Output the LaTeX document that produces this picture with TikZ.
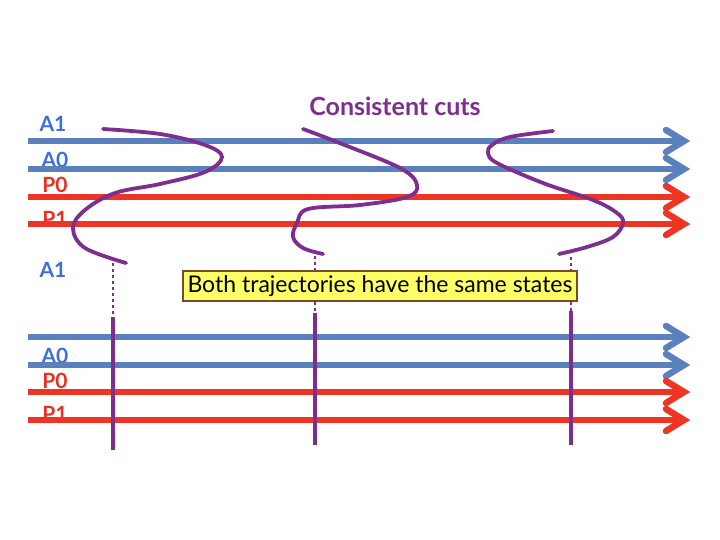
\documentclass[tikz,border=0pt]{standalone}
\usepackage{fontspec}
\setmainfont{Lato}
\definecolor{lblue}{HTML}{5A80BE}
\definecolor{lred}{HTML}{EE3524}
\definecolor{tblue}{HTML}{3D6DE0}
\definecolor{tred}{HTML}{E53222}
\definecolor{cutp}{HTML}{7D2E8E}
\definecolor{boxy}{HTML}{FFFF66}
\definecolor{boxb}{HTML}{7A4A2A}
\tikzset{
  lab/.style={font=\fontsize{21}{23}\selectfont\bfseries, inner sep=0pt},
  tline/.style={line width=6pt},
  barb/.style={line width=6.5pt, line cap=round, line join=miter},
  cut/.style={cutp, line width=3.8pt, line cap=round},
  vcut/.style={cutp, line width=4pt},
  dcut/.style={cutp, line width=2pt, dash pattern=on 3pt off 3pt},
}
\newcommand{\tl}[2]{%
  \coordinate (s#2) at (28,#1);
  \coordinate (e#2) at (684,#1);
  \draw[tline] (s#2) -- (e#2);
  \draw[barb] ([shift={(-18,-11)}]e#2) -- (e#2) -- ([shift={(-18,11)}]e#2);
}
\begin{document}
\begin{tikzpicture}[x=1pt,y=-1pt]
\useasboundingbox (0,0) rectangle (720,540);
% labels (under the lines)
\node[lab, text=tblue] (la1) at (53,124) {A1};
\node[lab, text=tblue] (la0) at (55,160) {A0};
\node[lab, text=tred]  (lp0) at (55,185) {P0};
\node[lab, text=tred]  (lp1) at (55,219) {P1};
\node[lab, text=tblue] (lb1) at (53,270) {A1};
\node[lab, text=tblue] (lc0) at (55,356) {A0};
\node[lab, text=tred]  (lq0) at (55,381) {P0};
\node[lab, text=tred]  (lq1) at (55,414) {P1};
% top lines
\begin{scope}[lblue]\tl{141}{ta1}\tl{169}{ta0}\end{scope}
\begin{scope}[lred]\tl{197}{tp0}\tl{224}{tp1}\end{scope}
% bottom lines
\begin{scope}[lblue]\tl{337}{ba1}\tl{365}{ba0}\end{scope}
\begin{scope}[lred]\tl{392}{bp0}\tl{420}{bp1}\end{scope}
% title
\node[font=\fontsize{25}{27}\selectfont\bfseries, text=cutp, inner sep=0pt] (title) at (395,106) {Consistent cuts};
% cuts
\draw[cut] plot[smooth, tension=0.6] coordinates {(103,129) (160,134) (205,145) (222,157) (205,172) (160,184) (115,193) (85,210) (73,228) (85,248) (126,263)};
\draw[cut] plot[smooth, tension=0.6] coordinates {(303,129) (337,142) (400,168) (417,185) (407,197) (360,205) (308,209) (297,223) (293,237) (303,248) (323,254)};
\draw[cut] plot[smooth, tension=0.6] coordinates {(553,131) (510,137) (492,145) (488,153) (497,163) (543,183) (593,200) (617,213) (623,223) (613,237) (587,247) (559,254)};
% box
\node[draw=boxb, line width=1.2pt, fill=boxy, minimum width=394pt, minimum height=30pt, inner sep=0pt,
      font=\fontsize{23}{25}\selectfont] (box) at (380,286) {Both trajectories have the same states};
% cut end points
\coordinate (c1) at (113,263);
\coordinate (c2) at (315,256);
\coordinate (c3) at (571,257);
\coordinate (v1t) at (113,317);
\coordinate (v1b) at (113,450);
\coordinate (v2t) at (315,313);
\coordinate (v2b) at (315,445);
\coordinate (v3t) at (571,311);
\coordinate (v3b) at (571,445);
\draw[dcut] (c1) -- (v1t);
\draw[dcut] (c2) -- (c2 |- box.north);
\draw[dcut] (c2 |- box.south) -- (v2t);
\draw[dcut] (c3) -- (c3 |- box.north);
\draw[dcut] (c3 |- box.south) -- (v3t);
\draw[vcut] (v1t) -- (v1b);
\draw[vcut] (v2t) -- (v2b);
\draw[vcut] (v3t) -- (v3b);
\end{tikzpicture}
\end{document}
